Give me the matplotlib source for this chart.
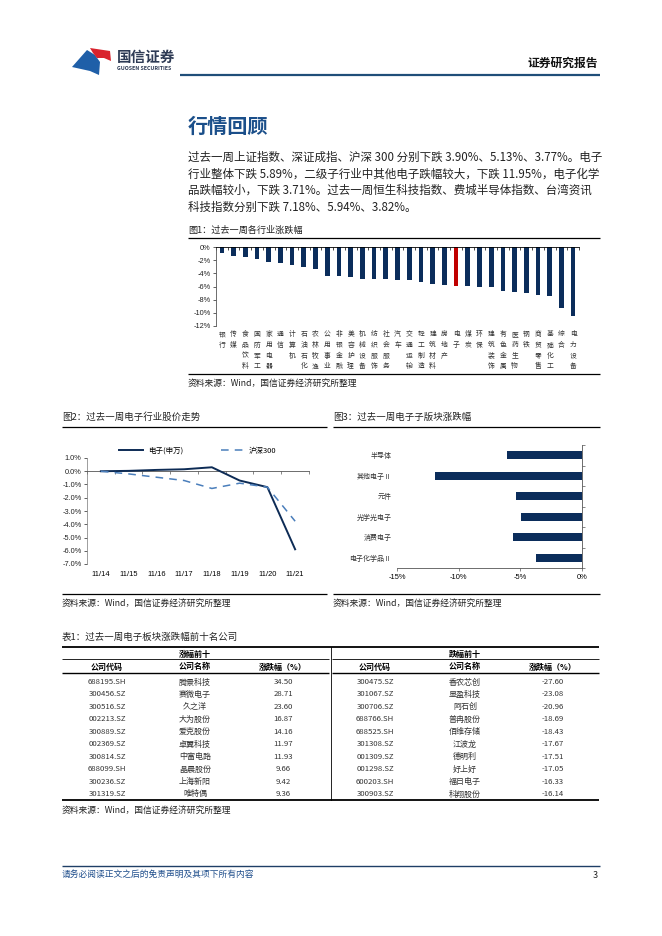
import matplotlib
matplotlib.use("Agg")
import matplotlib.pyplot as plt
from matplotlib.lines import Line2D
from matplotlib.patches import Polygon
import numpy as np

plt.rcParams['font.family'] = ['Noto Sans CJK SC', 'DejaVu Sans']
plt.rcParams['axes.unicode_minus'] = False

# ---------------- data ----------------
industries = ["银行", "传媒", "食品饮料", "国防军工", "家用电器", "通信", "计算机", "石油石化",
              "农林牧渔", "公用事业", "非银金融", "美容护理", "机械设备", "纺织服饰", "社会服务",
              "汽车", "交通运输", "轻工制造", "建筑材料", "房地产", "电子", "煤炭", "环保",
              "建筑装饰", "有色金属", "医药生物", "钢铁", "商贸零售", "基础化工", "综合", "电力设备"]
industry_chg = [-0.9, -1.3, -1.5, -1.8, -2.3, -2.5, -2.8, -3.0, -3.4, -4.35, -4.4, -4.55,
                -4.8, -4.85, -4.9, -4.95, -5.05, -5.3, -5.65, -5.8, -5.89, -5.9, -6.0,
                -6.1, -6.75, -6.85, -7.0, -7.25, -7.45, -9.2, -10.5]
highlight = "电子"

dates = ["11/14", "11/15", "11/16", "11/17", "11/18", "11/19", "11/20", "11/21"]
elec_sw = [0.0, 0.03, 0.1, 0.15, 0.3, -0.7, -1.2, -5.89]
hs300 = [0.0, -0.2, -0.45, -0.7, -1.3, -0.9, -1.2, -3.77]

sub_names = ["半导体", "其他电子Ⅱ", "元件", "光学光电子", "消费电子", "电子化学品Ⅱ"]
sub_chg = [-6.05, -11.95, -5.35, -4.95, -5.6, -3.71]

top_codes = ["688195.SH", "300456.SZ", "300516.SZ", "002213.SZ", "300889.SZ",
             "002369.SZ", "300814.SZ", "688099.SH", "300236.SZ", "301319.SZ"]
top_names = ["腾景科技", "赛微电子", "久之洋", "大为股份", "爱克股份",
             "卓翼科技", "中富电路", "晶晨股份", "上海新阳", "唯特偶"]
top_pct = ["34.50", "28.71", "23.60", "16.87", "14.16", "11.97", "11.93", "9.66", "9.42", "9.36"]

bot_codes = ["300475.SZ", "301067.SZ", "300706.SZ", "688766.SH", "688525.SH",
             "301308.SZ", "001309.SZ", "001298.SZ", "600203.SH", "300903.SZ"]
bot_names = ["香农芯创", "显盈科技", "阿石创", "普冉股份", "佰维存储",
             "江波龙", "德明利", "好上好", "福日电子", "科翔股份"]
bot_pct = ["-27.60", "-23.08", "-20.96", "-18.69", "-18.43", "-17.67", "-17.51", "-17.05", "-16.33", "-16.14"]

para_lines = [
    "过去一周上证指数、深证成指、沪深 300 分别下跌 3.90%、5.13%、3.77%。电子",
    "行业整体下跌 5.89%，二级子行业中其他电子跌幅较大，下跌 11.95%，电子化学",
    "品跌幅较小，下跌 3.71%。过去一周恒生科技指数、费城半导体指数、台湾资讯",
    "科技指数分别下跌 7.18%、5.94%、3.82%。",
]

# ---------------- layout helpers ----------------
W, H = 662, 936
fig = plt.figure(figsize=(W / 100, H / 100), dpi=100)
fig.patch.set_facecolor("white")

NAVY = "#0B2D5B"
RED = "#C00000"
TITLE_BLUE = "#1B4F8A"
DARK = "#222222"


def fx(x):
    return x / W


def fy(y):
    return 1 - y / H


def add_ax(l, t, r, b):
    return fig.add_axes([l / W, 1 - b / H, (r - l) / W, (b - t) / H])


def hline(x0, x1, y, lw=0.8, color="black"):
    fig.add_artist(Line2D([fx(x0), fx(x1)], [fy(y), fy(y)], transform=fig.transFigure,
                          lw=lw, color=color, solid_capstyle="butt"))


def vline(x, y0, y1, lw=0.8, color="black"):
    fig.add_artist(Line2D([fx(x), fx(x)], [fy(y0), fy(y1)], transform=fig.transFigure,
                          lw=lw, color=color))


def txt(x, y, s, size, ha="left", va="center", **kw):
    fig.text(fx(x), fy(y), s, fontsize=size, ha=ha, va=va, **kw)


# ---------------- header ----------------
blue_logo = [(72, 67), (87, 50), (95, 55), (100, 62), (99, 75), (90, 71)]
red_logo = [(90, 48), (110, 51), (111, 61), (104, 58), (97, 58), (93, 53)]
fig.add_artist(Polygon([(fx(a), fy(b)) for a, b in blue_logo], closed=True,
                       transform=fig.transFigure, color="#1F5FA8", lw=0))
fig.add_artist(Polygon([(fx(a), fy(b)) for a, b in red_logo], closed=True,
                       transform=fig.transFigure, color="#D9232E", lw=0))
txt(117, 57, "国信证券", 10.5, color="#2E3B55", fontweight="bold")
txt(117, 69, "GUOSEN SECURITIES", 3.8, color="#2E3B55", fontweight="bold")
txt(598, 63, "证券研究报告", 8.5, ha="right", color="#111111", fontweight="bold")
hline(180, 600, 74.5, lw=1.6, color="#1F4E79")

# ---------------- title & paragraph ----------------
txt(188, 126, "行情回顾", 14.5, color=TITLE_BLUE, fontweight="bold")
for i, line in enumerate(para_lines):
    txt(188, 157 + i * 16.8, line, 8.3, color=DARK)

# ---------------- figure 1 ----------------
txt(188, 230, "图1：过去一周各行业涨跌幅", 6.6, color=DARK)
hline(188, 600, 238, lw=0.9)
ax1 = add_ax(216, 247, 579, 326)
x1 = np.arange(len(industries))
cols = [RED if n == highlight else NAVY for n in industries]
ax1.bar(x1, industry_chg, width=0.4, color=cols, zorder=2)
ax1.set_xlim(-0.5, len(industries) - 0.5)
ax1.set_ylim(-12, 0)
ax1.set_yticks(np.arange(-12, 1, 2))
ax1.set_yticklabels([f"{v}%" for v in range(-12, 1, 2)], fontsize=5.3, family="Liberation Sans")
ax1.spines["right"].set_visible(False)
ax1.spines["bottom"].set_visible(False)
ax1.spines["top"].set_linewidth(0.6)
ax1.spines["left"].set_linewidth(0.6)
ax1.spines["left"].set_color("#555555")
ax1.tick_params(axis="y", length=2.5, width=0.5, pad=1.5, colors="#222222")
ax1.set_xticks(x1)
ax1.set_xticklabels(["\n".join(n) for n in industries], fontsize=4.9, color="#333333",
                    linespacing=1.45, va="top")
ax1.tick_params(axis="x", which="major", length=0, pad=3, bottom=True, top=False)
ax1.set_xticks(np.arange(-0.5, len(industries), 1), minor=True)
ax1.tick_params(axis="x", which="minor", top=True, bottom=False, direction="in",
                length=2.5, width=0.5)
hline(188, 600, 374, lw=0.9)
txt(188, 383, "资料来源：Wind，国信证券经济研究所整理", 6.3, color=DARK)

# ---------------- figure 2 ----------------
txt(62, 417, "图2：过去一周电子行业股价走势", 6.8, color=DARK)
hline(62, 327, 427, lw=0.9)
ax2 = add_ax(87, 458, 309, 564)
x2 = np.arange(len(dates))
ax2.plot(x2, elec_sw, color="#0D2B55", lw=1.4, label="电子(申万)", zorder=3)
ax2.plot(x2, hs300, color="#4A7EBB", lw=1.1, ls=(0, (5, 4)), label="沪深300", zorder=3)
ax2.set_xlim(-0.5, len(dates) - 0.5)
ax2.set_ylim(-7, 1)
ax2.set_yticks(np.arange(-7, 1.01, 1))
ax2.set_yticklabels([f"{v:.1f}%" for v in np.arange(-7, 1.01, 1)], fontsize=5.3,
                    family="Liberation Sans")
ax2.spines["right"].set_visible(False)
ax2.spines["top"].set_visible(False)
ax2.spines["left"].set_linewidth(0.5)
ax2.spines["left"].set_color("#777777")
ax2.spines["bottom"].set_position(("data", 0))
ax2.spines["bottom"].set_linewidth(0.6)
ax2.spines["bottom"].set_color("#555555")
ax2.tick_params(axis="y", length=2.5, width=0.5, pad=1.5, colors="#222222")
ax2.set_xticks(x2)
ax2.set_xticklabels(dates, fontsize=5.4, family="Liberation Sans")
ax2.tick_params(axis="x", which="major", length=0, pad=72)
ax2.set_xticks(np.arange(-0.5, len(dates), 1), minor=True)
ax2.tick_params(axis="x", which="minor", length=2.5, width=0.5, direction="out", color="#555555")
leg = ax2.legend(loc="center", bbox_to_anchor=(0.5, 1.07), ncol=2, frameon=False,
                 fontsize=5.4, handlelength=3.2, columnspacing=5, handletextpad=0.6)
hline(62, 327, 594, lw=0.9)
txt(62, 603, "资料来源：Wind，国信证券经济研究所整理", 6.3, color=DARK)

# ---------------- figure 3 ----------------
txt(333, 417, "图3：过去一周电子子版块涨跌幅", 6.8, color=DARK)
hline(333, 600, 427, lw=0.9)
ax3 = add_ax(397, 445, 582, 568)
y3 = np.arange(len(sub_names))
ax3.barh(y3, sub_chg, height=0.4, color=NAVY, zorder=2)
ax3.set_ylim(len(sub_names) - 0.5, -0.5)
ax3.set_xlim(-15, 0)
ax3.set_xticks([-15, -10, -5, 0])
ax3.set_xticklabels(["-15%", "-10%", "-5%", "0%"], fontsize=5.4, family="Liberation Sans")
ax3.tick_params(axis="x", length=2.5, width=0.5, pad=2, color="#555555")
ax3.spines["left"].set_visible(False)
ax3.spines["top"].set_visible(False)
ax3.spines["right"].set_linewidth(0.6)
ax3.spines["right"].set_color("#555555")
ax3.spines["bottom"].set_linewidth(0.6)
ax3.spines["bottom"].set_color("#555555")
ax3.set_yticks(y3)
ax3.set_yticklabels(sub_names, fontsize=5.0, color="#333333")
ax3.tick_params(axis="y", which="major", length=0, pad=4, left=True, right=False)
ax3.set_yticks(np.arange(-0.5, len(sub_names), 1), minor=True)
ax3.tick_params(axis="y", which="minor", left=False, right=True, length=2.5, width=0.5,
                direction="out", color="#555555")
hline(333, 600, 594, lw=0.9)
txt(333, 603, "资料来源：Wind，国信证券经济研究所整理", 6.3, color=DARK)

# ---------------- table ----------------
txt(62, 637, "表1：过去一周电子板块涨跌幅前十名公司", 6.8, color=DARK)
hline(62, 599, 647, lw=1.3)
hline(62, 329, 659, lw=0.6)
hline(332, 599, 659, lw=0.6)
hline(62, 329, 673, lw=1.0)
hline(332, 599, 673, lw=1.0)
hline(62, 599, 800, lw=1.3)
vline(330.5, 647, 800, lw=0.6)

col_left = [107, 195, 283]
col_right = [375, 465, 553]
headers = ["公司代码", "公司名称", "涨跌幅（%）"]
txt(195, 654, "涨幅前十", 5.8, ha="center", fontweight="bold")
txt(465, 654, "跌幅前十", 5.8, ha="center", fontweight="bold")
for cx, h in zip(col_left, headers):
    txt(cx, 667, h, 5.8, ha="center", fontweight="bold")
for cx, h in zip(col_right, headers):
    txt(cx, 667, h, 5.8, ha="center", fontweight="bold")
for i in range(10):
    yy = 682 + i * 12.44
    txt(col_left[0], yy, top_codes[i], 5.6, ha="center", color="#333333")
    txt(col_left[1], yy, top_names[i], 5.8, ha="center", color="#333333")
    txt(col_left[2], yy, top_pct[i], 5.6, ha="center", color="#333333")
    txt(col_right[0], yy, bot_codes[i], 5.6, ha="center", color="#333333")
    txt(col_right[1], yy, bot_names[i], 5.8, ha="center", color="#333333")
    txt(col_right[2], yy, bot_pct[i], 5.6, ha="center", color="#333333")
txt(62, 810, "资料来源：Wind，国信证券经济研究所整理", 6.3, color=DARK)

# ---------------- footer ----------------
hline(62, 600, 866, lw=1.0, color="#1F3F66")
txt(62, 874, "请务必阅读正文之后的免责声明及其项下所有内容", 6.3, color="#1F4E8C", style="italic")
txt(598, 875, "3", 6.5, ha="right", color="#222222")

fig.savefig("out.png", dpi=100)
